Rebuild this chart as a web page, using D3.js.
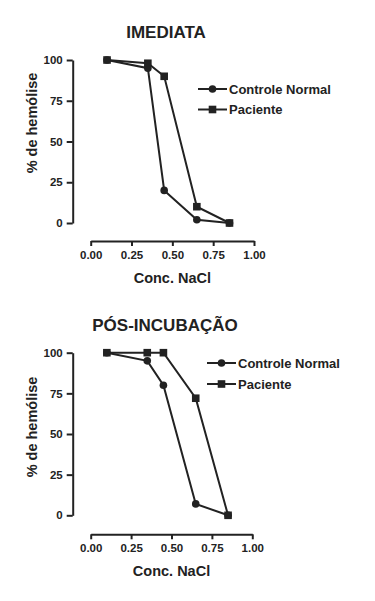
<!DOCTYPE html>
<html>
<head>
<meta charset="utf-8">
<script src="https://cdn.jsdelivr.net/npm/d3@7"></script>
<style>
	body { margin: 0; background: #fff; }
	svg text { font-family: "Liberation Sans", Arial, sans-serif; font-weight: bold; fill: #222; }
</style>
</head>
<body>
<svg id="chart" width="375" height="601"></svg>
<script>
// NaCl concentrations (x) shared by both panels
var conc = [0.10, 0.35, 0.45, 0.65, 0.85];

var imediataControle = [100, 95, 20, 2, 0];
var imediataPaciente = [100, 98, 90, 10, 0];

var posControle = [100, 95, 80, 7, 0];
var posPaciente = [100, 100, 100, 72, 0];

var xTicks = [0.00, 0.25, 0.50, 0.75, 1.00];
var yTicks = [0, 25, 50, 75, 100];

var titles = ['IMEDIATA', 'PÓS-INCUBAÇÃO'];
var seriesNames = ['Controle Normal', 'Paciente'];

var svg = d3.select('#chart');

function drawPanel(cfg) {
	var g = svg.append('g');
	var x = d3.scaleLinear().domain([0, 1]).range([cfg.x0, cfg.x1]);
	var y = d3.scaleLinear().domain([0, 100]).range([cfg.y0, cfg.y1]);

	// title
	g.append('text')
		.attr('x', cfg.titleX)
		.attr('y', cfg.titleY)
		.attr('text-anchor', 'middle')
		.style('font-size', '17px')
		.text(cfg.title);

	// y axis
	var yAxis = g.append('g')
		.attr('transform', 'translate(' + cfg.axisX + ',0)')
		.call(d3.axisLeft(y).tickValues(yTicks).tickSize(6).tickSizeOuter(0).tickPadding(4).tickFormat(d3.format('d')));
	// x axis
	var xAxis = g.append('g')
		.attr('transform', 'translate(0,' + cfg.axisY + ')')
		.call(d3.axisBottom(x).tickValues(xTicks).tickSize(5).tickSizeOuter(0).tickPadding(5).tickFormat(d3.format('.2f')));

	[yAxis, xAxis].forEach(function (ax) {
		ax.select('.domain').attr('stroke', '#222').attr('stroke-width', 2);
		ax.selectAll('.tick line').attr('stroke', '#222').attr('stroke-width', 2);
		ax.selectAll('.tick text')
			.attr('fill', '#222')
			.style('font-family', '"Liberation Sans", Arial, sans-serif')
			.style('font-weight', 'bold')
			.style('font-size', '11.5px');
	});

	// axis labels
	g.append('text')
		.attr('x', (cfg.x0 + cfg.x1) / 2)
		.attr('y', cfg.xLabelY)
		.attr('text-anchor', 'middle')
		.style('font-size', '14.5px')
		.text('Conc. NaCl');

	g.append('text')
		.attr('transform', 'translate(' + cfg.yLabelX + ',' + cfg.yLabelY + ') rotate(-90)')
		.attr('text-anchor', 'middle')
		.style('font-size', '14.5px')
		.text('% de hemólise');

	var line = d3.line()
		.x(function (d) { return x(d.x); })
		.y(function (d) { return y(d.y); });

	var series = [cfg.controle, cfg.paciente].map(function (vals) {
		return vals.map(function (v, i) { return {x: conc[i], y: v}; });
	});

	series.forEach(function (pts) {
		g.append('path')
			.attr('d', line(pts))
			.attr('fill', 'none')
			.attr('stroke', '#222')
			.attr('stroke-width', 2);
	});

	// markers
	g.selectAll('.ptC').data(series[0]).enter().append('circle')
		.attr('cx', function (d) { return x(d.x); })
		.attr('cy', function (d) { return y(d.y); })
		.attr('r', 3.8)
		.attr('fill', '#222');

	g.selectAll('.ptP').data(series[1]).enter().append('rect')
		.attr('x', function (d) { return x(d.x) - 3.8; })
		.attr('y', function (d) { return y(d.y) - 3.8; })
		.attr('width', 7.6)
		.attr('height', 7.6)
		.attr('fill', '#222');

	// legend
	seriesNames.forEach(function (name, i) {
		var ly = cfg.legY + i * cfg.legGap;
		var lg = g.append('g');
		lg.append('line')
			.attr('x1', cfg.legX).attr('x2', cfg.legX + 29)
			.attr('y1', ly).attr('y2', ly)
			.attr('stroke', '#222').attr('stroke-width', 2);
		if (i === 0) {
			lg.append('circle').attr('cx', cfg.legX + 14.5).attr('cy', ly).attr('r', 3.8).attr('fill', '#222');
		} else {
			lg.append('rect').attr('x', cfg.legX + 14.5 - 3.8).attr('y', ly - 3.8)
				.attr('width', 7.6).attr('height', 7.6).attr('fill', '#222');
		}
		lg.append('text')
			.attr('x', cfg.legX + 31)
			.attr('y', ly)
			.attr('dy', '0.35em')
			.style('font-size', '13px')
			.text(name);
	});
}

drawPanel({
	title: titles[0], titleX: 166, titleY: 38,
	controle: imediataControle, paciente: imediataPaciente,
	x0: 90.7, x1: 254, y0: 223, y1: 60,
	axisX: 72.7, axisY: 241,
	xLabelY: 283, yLabelX: 37, yLabelY: 123,
	legX: 198, legY: 89, legGap: 20.5
});

drawPanel({
	title: titles[1], titleX: 165, titleY: 331,
	controle: posControle, paciente: posPaciente,
	x0: 90.7, x1: 252.3, y0: 515.3, y1: 352.7,
	axisX: 72.7, axisY: 534.3,
	xLabelY: 576, yLabelX: 37, yLabelY: 427,
	legX: 207, legY: 363, legGap: 21
});
</script>
</body>
</html>
